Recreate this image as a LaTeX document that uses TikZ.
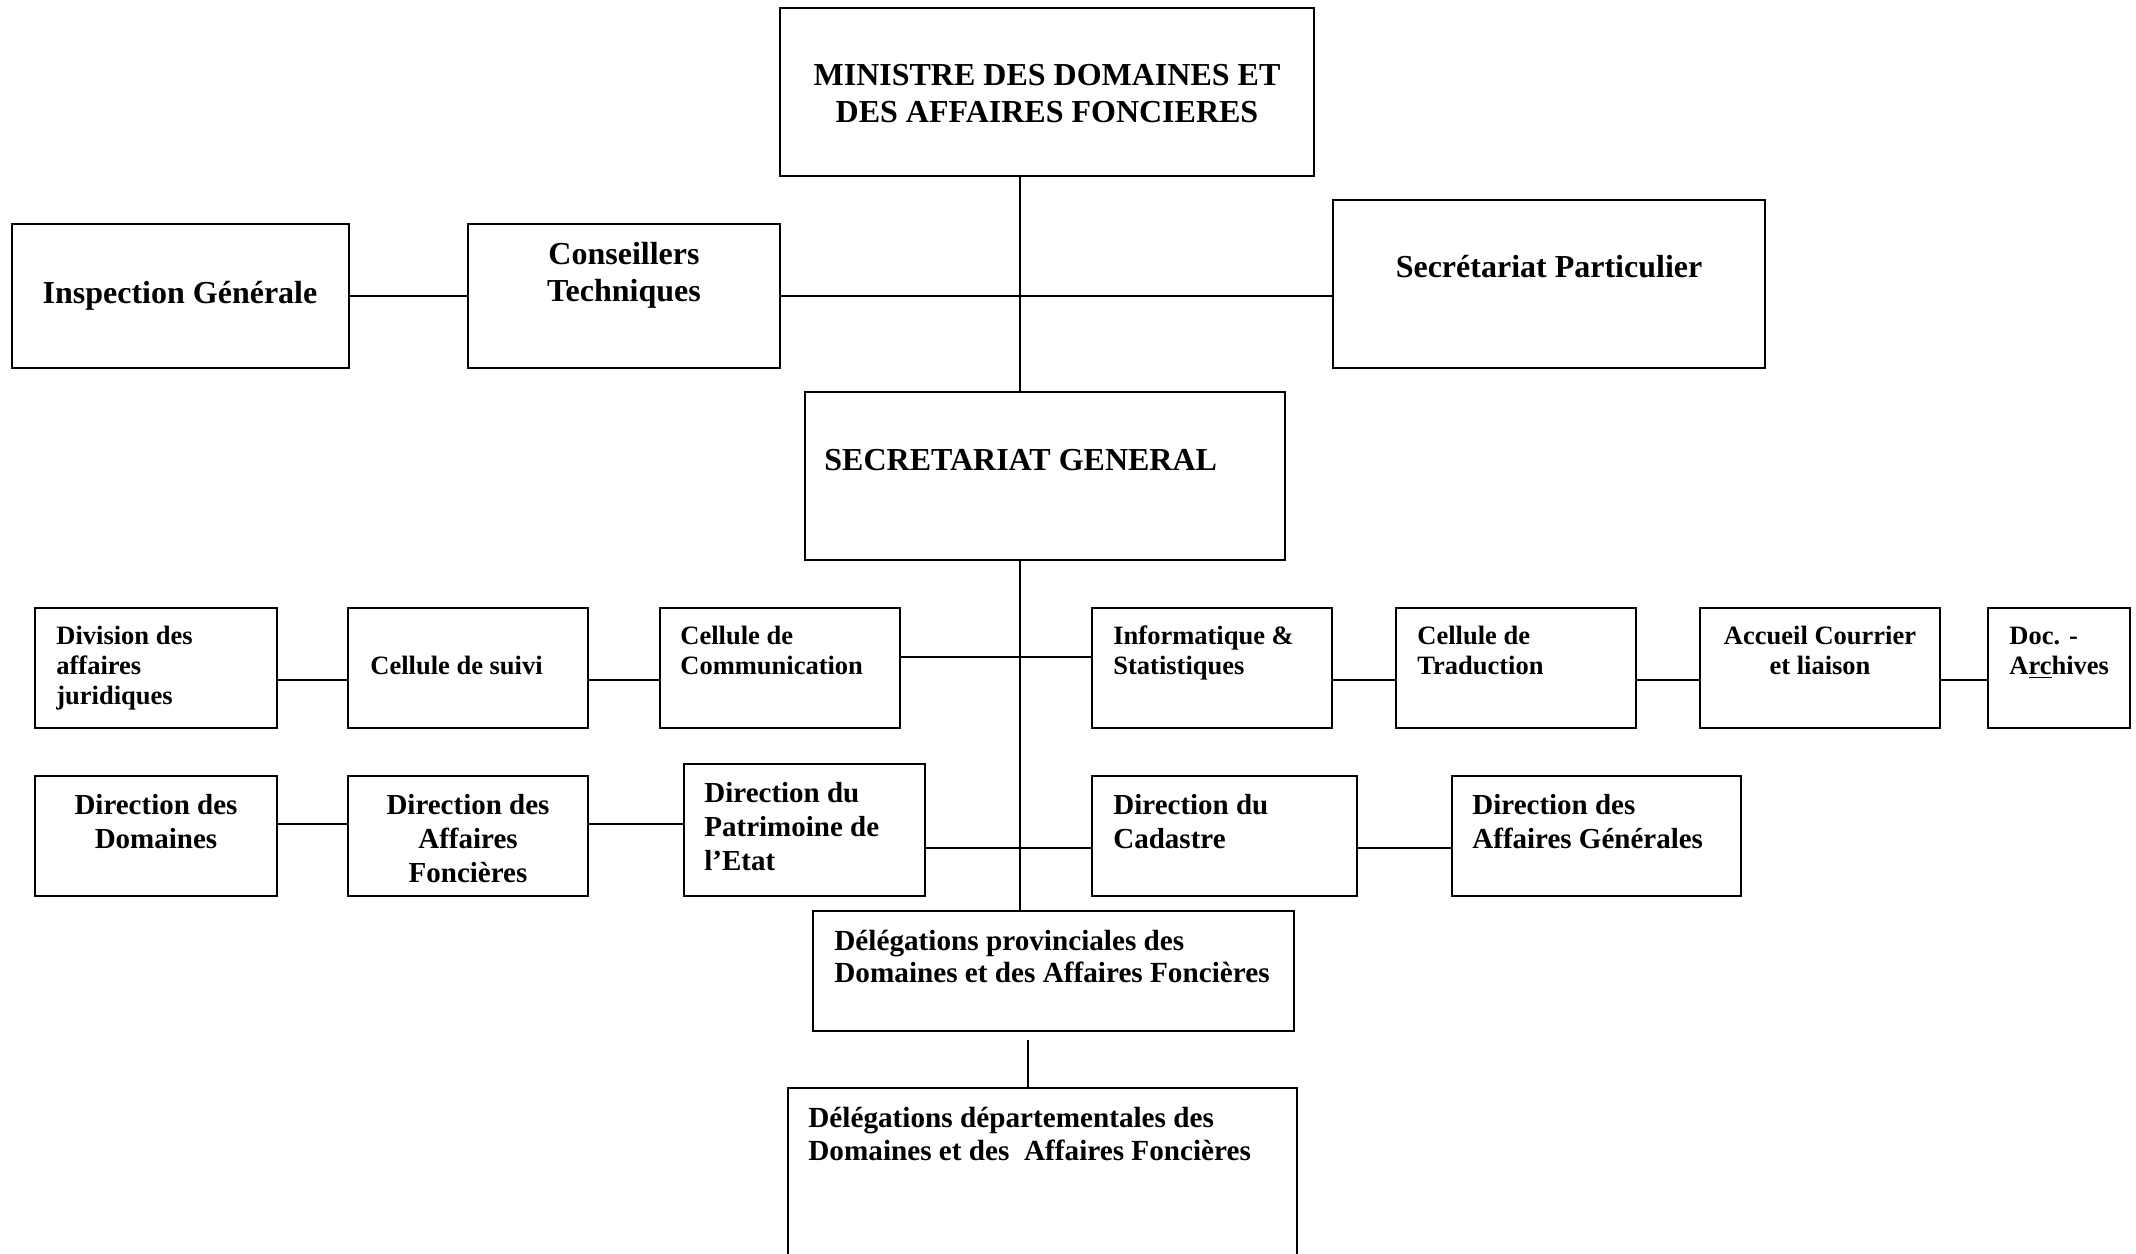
\documentclass[tikz,border=0pt]{standalone}
\usepackage{fontspec}
\setmainfont{Liberation Serif}
\usetikzlibrary{fit}
\newcommand{\TL}[1]{\begin{tabular}[t]{@{}l@{}}#1\end{tabular}}
\newcommand{\TC}[1]{\begin{tabular}[t]{@{}c@{}}#1\end{tabular}}
\tikzset{
  box/.style={draw=black, line width=1.4pt, inner sep=0pt},
  conn/.style={draw=black, line width=1.4pt},
  big/.style={inner sep=0pt, font=\fontsize{16}{18.5}\selectfont\bfseries},
  small/.style={inner sep=0pt, font=\fontsize{13.25}{15}\selectfont\bfseries},
  mid/.style={inner sep=0pt, font=\fontsize{14.5}{17}\selectfont\bfseries},
  del/.style={inner sep=0pt, font=\fontsize{14.6}{16.2}\selectfont\bfseries},
}
\begin{document}
\begin{tikzpicture}[x=0.5pt, y=-0.5pt]
\useasboundingbox (0,0) rectangle (2136,1253);
\clip (0,0) rectangle (2136,1253);
% boxes
\node[box, fit={(780,8) (1314,176)}] (min) {};
\node[box, fit={(12,224) (349,368)}] (insp) {};
\node[box, fit={(468,224) (780,368)}] (cons) {};
\node[box, fit={(1333,200) (1765,368)}] (secp) {};
\node[box, fit={(805,392) (1285,560)}] (sg) {};
\node[box, fit={(35,608) (277,728)}] (div) {};
\node[box, fit={(348,608) (588,728)}] (suiv) {};
\node[box, fit={(660,608) (900,728)}] (comm) {};
\node[box, fit={(1092,608) (1332,728)}] (info) {};
\node[box, fit={(1396,608) (1636,728)}] (trad) {};
\node[box, fit={(1700,608) (1940,728)}] (acc) {};
\node[box, fit={(1988,608) (2130,728)}] (doc) {};
\node[box, fit={(35,776) (277,896)}] (dom) {};
\node[box, fit={(348,776) (588,896)}] (af) {};
\node[box, fit={(684,764) (925,896)}] (pat) {};
\node[box, fit={(1092,776) (1357,896)}] (cad) {};
\node[box, fit={(1452,776) (1741,896)}] (ag) {};
\node[box, fit={(813,911) (1294,1031)}] (prov) {};
\node[box, fit={(788,1088) (1297,1320)}] (dept) {};
% texts
\node[big, anchor=base] (minT) at (1047,85) {\TC{MINISTRE DES DOMAINES ET\\DES AFFAIRES FONCIERES}};
\node[big, anchor=base] (inspT) at (180,303) {Inspection Générale};
\node[big, anchor=base] (consT) at (624,264) {\TC{Conseillers\\Techniques}};
\node[big, anchor=base] (secpT) at (1549,277) {Secrétariat Particulier};
\node[big, anchor=base west] (sgT) at (824,470) {SECRETARIAT GENERAL};
\node[small, anchor=base west] (divT) at (56,644) {\TL{Division des\\affaires\\juridiques}};
\node[small, anchor=base west] (suivT) at (370,674) {Cellule de suivi};
\node[small, anchor=base west] (commT) at (680,644) {\TL{Cellule de\\Communication}};
\node[small, anchor=base west] (infoT) at (1113,644) {\TL{Informatique \&\\Statistiques}};
\node[small, anchor=base west] (tradT) at (1417,644) {\TL{Cellule de\\Traduction}};
\node[small, anchor=base] (accT) at (1820,644) {\TC{Accueil Courrier\\et liaison}};
\node[small, anchor=base west] (docT) at (2009,644) {\TL{Doc. -\\A\underline{rc}hives}};
\node[mid, anchor=base] (domT) at (156,814) {\TC{Direction des\\Domaines}};
\node[mid, anchor=base] (afT) at (468,814) {\TC{Direction des\\Affaires\\Foncières}};
\node[mid, anchor=base west] (patT) at (704,802) {\TL{Direction du\\Patrimoine de\\l’Etat}};
\node[mid, anchor=base west] (cadT) at (1113,814) {\TL{Direction du\\Cadastre}};
\node[mid, anchor=base west] (agT) at (1472,814) {\TL{Direction des\\Affaires Générales}};
\node[del, anchor=base west] (provT) at (834,950) {\TL{Délégations provinciales des\\Domaines et des Affaires Foncières}};
\node[del, anchor=base west, font=\fontsize{14.6}{16.5}\selectfont\bfseries] (deptT) at (808,1127) {\TL{Délégations départementales des\\Domaines et des\ \ Affaires Foncières}};
% helper coordinates
\coordinate (sp) at (1020,0);
\coordinate (r1) at (0,680);
\coordinate (r1c) at (0,657);
\coordinate (r2a) at (0,824);
\coordinate (r2b) at (0,848);
\coordinate (pd) at (1028,1040);
% connectors
\draw[conn] (sp |- min.south) -- (sp |- sg.north);
\draw[conn] (insp.east) -- (cons.west);
\draw[conn] (cons.east) -- (cons.east -| secp.west);
\draw[conn] (sp |- sg.south) -- (sp |- prov.north);
\draw[conn] (div.east |- r1) -- (suiv.west |- r1);
\draw[conn] (suiv.east |- r1) -- (comm.west |- r1);
\draw[conn] (comm.east |- r1c) -- (info.west |- r1c);
\draw[conn] (info.east |- r1) -- (trad.west |- r1);
\draw[conn] (trad.east |- r1) -- (acc.west |- r1);
\draw[conn] (acc.east |- r1) -- (doc.west |- r1);
\draw[conn] (dom.east |- r2a) -- (af.west |- r2a);
\draw[conn] (af.east |- r2a) -- (pat.west |- r2a);
\draw[conn] (pat.east |- r2b) -- (cad.west |- r2b);
\draw[conn] (cad.east |- r2b) -- (ag.west |- r2b);
\draw[conn] (pd) -- (pd |- dept.north);
\end{tikzpicture}
\end{document}
